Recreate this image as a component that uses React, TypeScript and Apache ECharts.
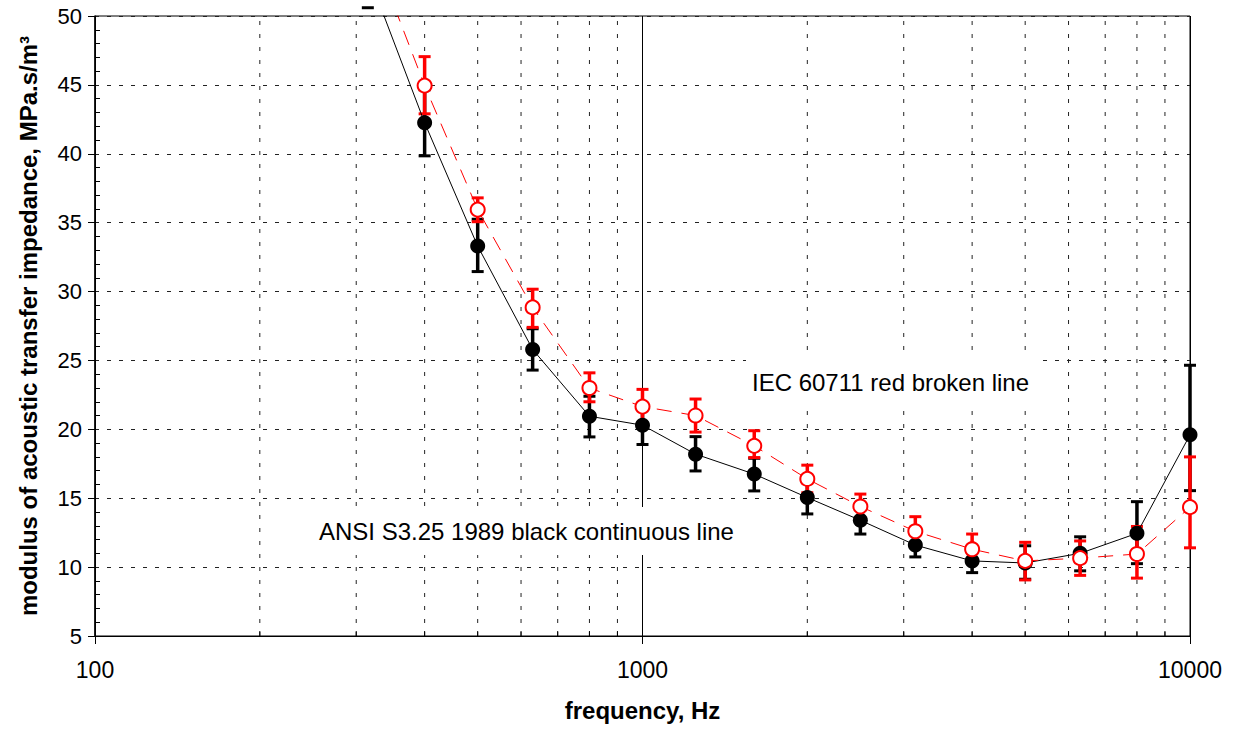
import React, { useEffect, useRef } from "react";
import * as echarts from "echarts";

// 1/3-octave band centre frequencies, Hz
const freqs = [315, 400, 500, 630, 800, 1000, 1250, 1600, 2000, 2500, 3150, 4000, 5000, 6300, 8000, 10000];

// ANSI S3.25 1989 (black continuous line)
const ansi = [53.1, 42.25, 33.3, 25.8, 20.95, 20.3, 18.2, 16.75, 15.05, 13.4, 11.6, 10.45, 10.3, 11.0, 12.45, 19.6];
const ansiLow = [50.6, 39.85, 31.45, 24.3, 19.45, 18.9, 16.98, 15.53, 13.86, 12.4, 10.74, 9.6, 9.12, 9.73, 10.25, 15.55];
const ansiHigh = [55.6, 44.65, 35.25, 27.3, 22.4, 21.7, 19.47, 17.9, 16.2, 14.4, 12.5, 11.3, 11.55, 12.2, 14.75, 24.65];

// IEC 60711 (red broken line)
const iec = [55.7, 44.95, 35.95, 28.85, 23.0, 21.65, 21.0, 18.8, 16.4, 14.4, 12.6, 11.3, 10.45, 10.65, 10.95, 14.35];
const iecLow = [53.2, 42.9, 35.07, 27.4, 22.0, 20.4, 19.8, 17.95, 15.4, 13.5, 11.6, 10.3, 9.07, 9.4, 9.2, 11.4];
const iecHigh = [58.2, 47.05, 36.8, 30.17, 24.1, 22.9, 22.2, 19.9, 17.4, 15.3, 13.66, 12.4, 11.8, 11.9, 12.95, 18.0];

// minor frequency grid lines / ticks
const minorFreqs = [200, 300, 400, 500, 600, 700, 800, 900, 2000, 3000, 4000, 5000, 6000, 7000, 8000, 9000];

const FONT = "'Liberation Sans', Arial, Helvetica, sans-serif";
const GRID_COLOR = "#222";

function errorBarSeries(name: string, lows: number[], highs: number[], color: string, z: number) {
  return {
    type: "custom",
    name,
    z,
    clip: false,
    silent: true,
    data: freqs.map((f, i) => [f, lows[i], highs[i]]),
    renderItem: (params: any, api: any) => {
      const x = api.value(0);
      const lo = api.value(1);
      const hi = api.value(2);
      const top = api.coord([x, hi]);
      const bot = api.coord([x, lo]);
      const cs = params.coordSys;
      const yMin = cs.y;
      const yMax = cs.y + cs.height;
      const children: any[] = [];
      const y1 = Math.max(top[1], yMin);
      const y2 = Math.min(bot[1], yMax);
      if (y2 > y1) {
        children.push({
          type: "line",
          shape: { x1: top[0], y1, x2: top[0], y2 },
          style: { stroke: color, lineWidth: 3.5 },
        });
      }
      const hw = 6;
      [top[1], bot[1]].forEach((yy) => {
        if (yy > -5 && yy < yMax + 5) {
          children.push({
            type: "line",
            shape: { x1: top[0] - hw, y1: yy, x2: top[0] + hw, y2: yy },
            style: { stroke: color, lineWidth: 3 },
          });
        }
      });
      return { type: "group", children };
    },
  };
}

export default function App() {
  const ref = useRef<HTMLDivElement>(null);
  useEffect(() => {
    document.body.style.margin = "0";
    if (!ref.current) return;
    const chart = echarts.init(ref.current, null, { renderer: "svg" });
    const option: any = {
      animation: false,
      backgroundColor: "#fff",
      textStyle: { fontFamily: FONT },
      grid: {
        left: 95,
        right: 47,
        top: 16,
        bottom: 95,
        show: true,
        borderColor: "#000",
        borderWidth: 1,
        backgroundColor: "transparent",
        containLabel: false,
      },
      xAxis: {
        type: "log",
        logBase: 10,
        min: 100,
        max: 10000,
        name: "frequency, Hz",
        nameLocation: "middle",
        nameGap: 62,
        nameTextStyle: { fontSize: 24, fontWeight: "bold", color: "#000", fontFamily: FONT },
        axisLine: { show: true, lineStyle: { color: "#000", width: 1 } },
        axisTick: { show: true, length: 8, lineStyle: { color: "#000" } },
        axisLabel: {
          fontSize: 23,
          color: "#000",
          margin: 22,
          fontFamily: FONT,
          formatter: (v: number) => String(Math.round(v)),
        },
        splitLine: { show: true, lineStyle: { color: "#000", width: 1, type: "solid" } },
        minorTick: { show: false },
        minorSplitLine: { show: false },
      },
      yAxis: [
        {
          type: "value",
          min: 5,
          max: 50,
          interval: 5,
          name: "modulus of acoustic transfer impedance, MPa.s/m\u00b3",
          nameLocation: "middle",
          nameRotate: 90,
          nameGap: 55,
          nameTextStyle: { fontSize: 24, fontWeight: "bold", color: "#000", fontFamily: FONT },
          axisLine: { show: true, lineStyle: { color: "#000", width: 1.5 } },
          axisTick: { show: true, length: 7, lineStyle: { color: "#000" } },
          axisLabel: { fontSize: 22, color: "#000", margin: 13, fontFamily: FONT },
          splitLine: { show: true, lineStyle: { color: GRID_COLOR, width: 1, type: [4, 8] } },
        },
        {
          type: "value",
          min: 5,
          max: 50,
          interval: 5,
          position: "left",
          offset: 0,
          axisLine: { show: false },
          axisLabel: { show: false },
          axisTick: { show: false, inside: true },
          splitLine: { show: false },
          minorTick: { show: true, splitNumber: 5, length: 5, lineStyle: { color: "#000" } },
        },
      ],
      graphic: [
        {
          type: "text",
          left: 528 - 215,
          top: 532 - 25,
          z: 10,
          style: {
            text: "ANSI S3.25 1989 black continuous line",
            font: `24px ${FONT}`,
            fill: "#000",
            backgroundColor: "#fff",
            padding: [12, 6],
          },
        },
        {
          type: "text",
          left: 891 - 145,
          top: 383 - 25,
          z: 10,
          style: {
            text: "IEC 60711 red broken line",
            font: `24px ${FONT}`,
            fill: "#000",
            backgroundColor: "#fff",
            padding: [12, 6],
          },
        },
      ],
      series: [
        {
          type: "custom",
          name: "minor grid",
          z: 1,
          silent: true,
          data: minorFreqs.map((f) => [f]),
          renderItem: (params: any, api: any) => {
            const f = api.value(0);
            const b = api.coord([f, 5]);
            const t = api.coord([f, 50]);
            return {
              type: "group",
              children: [
                {
                  type: "line",
                  shape: { x1: b[0], y1: b[1], x2: t[0], y2: t[1] },
                  style: { stroke: GRID_COLOR, lineWidth: 1, lineDash: [4, 9] },
                },
                {
                  type: "line",
                  shape: { x1: b[0], y1: b[1], x2: b[0], y2: b[1] - 5 },
                  style: { stroke: "#000", lineWidth: 1 },
                },
              ],
            };
          },
        },
        errorBarSeries("ANSI error", ansiLow, ansiHigh, "#000", 2),
        errorBarSeries("IEC error", iecLow, iecHigh, "#ff0000", 3),
        {
          type: "line",
          name: "ANSI S3.25 1989",
          z: 4,
          data: freqs.map((f, i) => [f, ansi[i]]),
          symbol: "circle",
          symbolSize: 15,
          showAllSymbol: true,
          clip: true,
          lineStyle: { color: "#000", width: 1 },
          itemStyle: { color: "#000", borderColor: "#000", borderWidth: 0 },
        },
        {
          type: "line",
          name: "IEC 60711",
          z: 5,
          data: freqs.map((f, i) => [f, iec[i]]),
          symbol: "circle",
          symbolSize: 14,
          showAllSymbol: true,
          clip: true,
          lineStyle: { color: "#ff0000", width: 1, type: [15, 10] },
          itemStyle: { color: "#fff", borderColor: "#ff0000", borderWidth: 2 },
        },
      ],
    };
    chart.setOption(option);
    return () => chart.dispose();
  }, []);
  return (
    <div
      ref={ref}
      style={{ position: "absolute", left: 0, top: 0, width: 1237, height: 731 }}
    />
  );
}
